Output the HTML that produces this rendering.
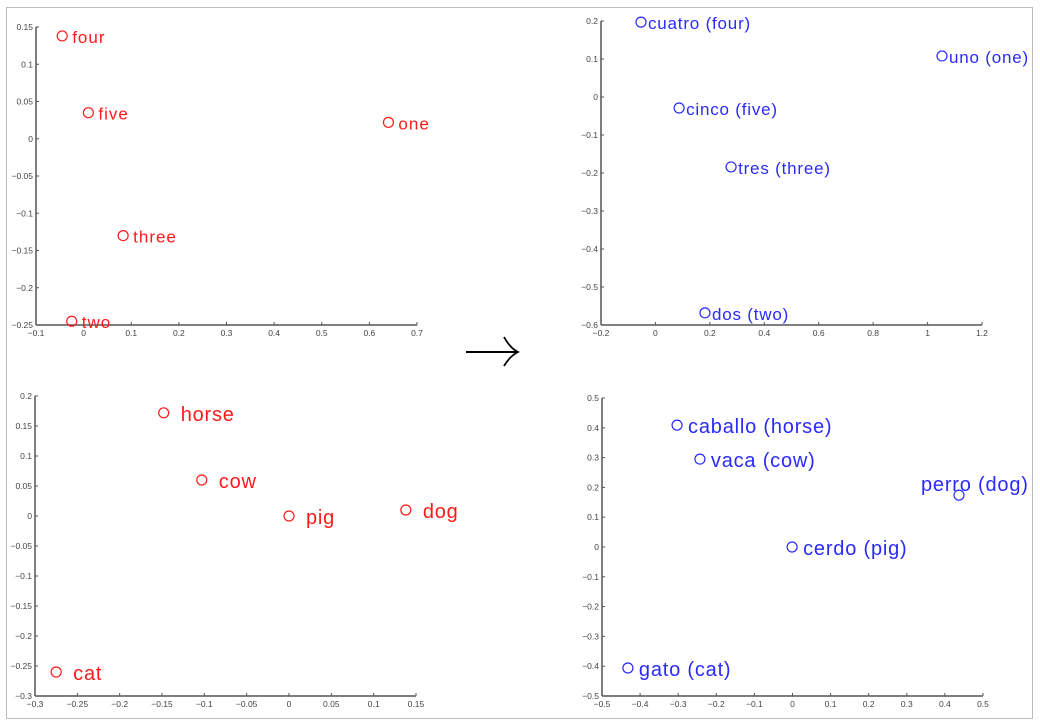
<!DOCTYPE html>
<html><head><meta charset="utf-8"><style>
html,body{margin:0;padding:0;background:#fff;}
svg{display:block;font-family:"Liberation Sans",sans-serif;}
</style></head><body>
<svg id="fig" width="1040" height="722" viewBox="0 0 1040 722">
<rect x="6.5" y="7.5" width="1026" height="711" fill="none" stroke="#bbb" stroke-width="1"/>
<g>
<line x1="466" y1="352" x2="517" y2="352" stroke="#000" stroke-width="2"/>
<path d="M504 337 Q510 348 518 352 Q510 356 504 366" fill="none" stroke="#000" stroke-width="1.8"/>
</g>
</svg>
<script>
// Panel 1: English numbers
const p1Labels=["four","five","one","three","two"];
const p1X=[-0.045,0.01,0.64,0.083,-0.025];
const p1Y=[0.138,0.035,0.022,-0.13,-0.245];
const p1XTicks=["-0.1","0","0.1","0.2","0.3","0.4","0.5","0.6","0.7"];
const p1YTicks=["0.15","0.1","0.05","0","-0.05","-0.1","-0.15","-0.2","-0.25"];
// Panel 2: Spanish numbers
const p2Labels=["cuatro (four)","uno (one)","cinco (five)","tres (three)","dos (two)"];
const p2X=[-0.053,1.053,0.087,0.278,0.182];
const p2Y=[0.197,0.108,-0.029,-0.184,-0.568];
const p2XTicks=["-0.2","0","0.2","0.4","0.6","0.8","1","1.2"];
const p2YTicks=["0.2","0.1","0","-0.1","-0.2","-0.3","-0.4","-0.5","-0.6"];
// Panel 3: English animals
const p3Labels=["horse","cow","pig","dog","cat"];
const p3X=[-0.148,-0.103,0.0,0.138,-0.275];
const p3Y=[0.172,0.06,0.0,0.01,-0.26];
const p3XTicks=["-0.3","-0.25","-0.2","-0.15","-0.1","-0.05","0","0.05","0.1","0.15"];
const p3YTicks=["0.2","0.15","0.1","0.05","0","-0.05","-0.1","-0.15","-0.2","-0.25","-0.3"];
// Panel 4: Spanish animals
const p4Labels=["caballo (horse)","vaca (cow)","perro (dog)","cerdo (pig)","gato (cat)"];
const p4X=[-0.303,-0.243,0.437,-0.001,-0.432];
const p4Y=[0.409,0.295,0.174,0.0,-0.406];
const p4XTicks=["-0.5","-0.4","-0.3","-0.2","-0.1","0","0.1","0.2","0.3","0.4","0.5"];
const p4YTicks=["0.5","0.4","0.3","0.2","0.1","0","-0.1","-0.2","-0.3","-0.4","-0.5"];

const NS="http://www.w3.org/2000/svg";
const fig=document.getElementById('fig');
function mk(tag,attrs,parent){const e=document.createElementNS(NS,tag);for(const k in attrs)e.setAttribute(k,attrs[k]);parent.appendChild(e);return e;}

function panel(name,cfg,labels,xs,ys,xt,yt){
  const g=mk('g',{},fig);
  
  
  const xv=xt.map(Number), yv=yt.map(Number);
  const xmin=Math.min(...xv),xmax=Math.max(...xv),ymin=Math.min(...yv),ymax=Math.max(...yv);
  const sx=v=>cfg.x0+(v-xmin)/(xmax-xmin)*(cfg.x1-cfg.x0);
  const sy=v=>cfg.y1-(v-ymin)/(ymax-ymin)*(cfg.y1-cfg.y0);
  const ax=mk('g',{},g);
  
  
  mk('line',{x1:cfg.x0,y1:cfg.y0,x2:cfg.x0,y2:cfg.y1,stroke:'#555','stroke-width':1.5},ax);
  mk('line',{x1:cfg.x0,y1:cfg.y1,x2:cfg.x1,y2:cfg.y1,stroke:'#555','stroke-width':1.5},ax);
  xt.forEach((t,i)=>{
    const x=sx(xv[i]);
    mk('line',{x1:x,y1:cfg.y1,x2:x,y2:cfg.y1-3,stroke:'#555'},ax);
    const tx=mk('text',{x:x,y:cfg.y1+11,'font-size':8.5,fill:'#444','text-anchor':'middle'},ax);
    
    
    tx.textContent=t.replace('-','\u2212');
  });
  yt.forEach((t,i)=>{
    const y=sy(yv[i]);
    mk('line',{x1:cfg.x0,y1:y,x2:cfg.x0+3,y2:y,stroke:'#555'},ax);
    const tx=mk('text',{x:cfg.x0-3,y:y+3,'font-size':8.5,fill:'#444','text-anchor':'end'},ax);
    
    
    tx.textContent=t.replace('-','\u2212');
  });
  labels.forEach((l,i)=>{
    const px=sx(xs[i]),py=sy(ys[i]);
    const c=mk('circle',{cx:px,cy:py,r:5,fill:'none',stroke:cfg.color,'stroke-width':1.2},g);
    
    
    let lx=px+cfg.dx, ly=py+cfg.fs*0.35+1;
    if(cfg.special&&cfg.special[i]){lx=px+cfg.special[i][0];ly=py+cfg.special[i][1];}
    const t=mk('text',{x:lx,y:ly,'font-size':cfg.fs,fill:cfg.color,'letter-spacing':cfg.ls},g);
    
    
    t.textContent=l;
  });
}
panel('panel-english-numbers',{x0:36,x1:417,y0:27,y1:325,color:'#ff1a1a',fs:17,ls:1,dx:10},p1Labels,p1X,p1Y,p1XTicks,p1YTicks);
panel('panel-spanish-numbers',{x0:601,x1:982,y0:21,y1:325,color:'#2a2aff',fs:17,ls:0.8,dx:7},p2Labels,p2X,p2Y,p2XTicks,p2YTicks);
panel('panel-english-animals',{x0:35,x1:416,y0:396,y1:696,color:'#ff1a1a',fs:20,ls:0.8,dx:17},p3Labels,p3X,p3Y,p3XTicks,p3YTicks);
panel('panel-spanish-animals',{x0:602,x1:983,y0:398,y1:696,color:'#2a2aff',fs:20,ls:0.8,dx:11,special:{2:[-38,-4]}},p4Labels,p4X,p4Y,p4XTicks,p4YTicks);
</script>
</body></html>
